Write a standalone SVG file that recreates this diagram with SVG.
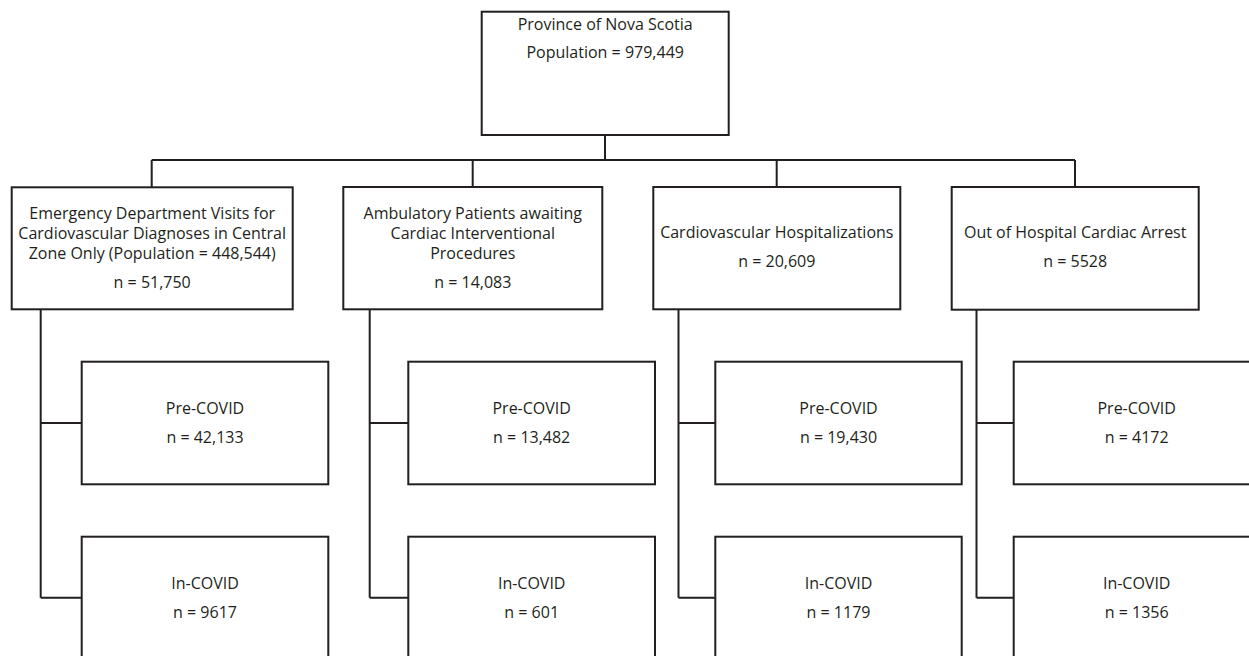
<svg xmlns="http://www.w3.org/2000/svg" width="1249" height="656" viewBox="0 0 1249 656">
<style>
  .box { fill: #ffffff; stroke: #231f20; stroke-width: 2; }
  .conn { fill: none; stroke: #231f20; stroke-width: 2; }
  text { font-family: "Open Sans", "Liberation Sans", sans-serif; font-size: 16px; fill: #231f20; text-anchor: middle; }
</style>
<rect width="1249" height="656" fill="#ffffff"/>
<g id="connectors">
  <path class="conn" d="M605,135 V160 M151.7,160 H1075 M151.7,160 V187 M472.7,160 V187 M776.7,160 V187 M1075,160 V187"/>
  <path class="conn" d="M40.7,309 V597.7 M40.7,423 H81.7 M40.7,597.7 H81.7"/>
  <path class="conn" d="M369.7,309 V597.7 M369.7,423 H408.3 M369.7,597.7 H408.3"/>
  <path class="conn" d="M678.5,309 V597.7 M678.5,423 H715.3 M678.5,597.7 H715.3"/>
  <path class="conn" d="M976.5,309 V597.7 M976.5,423 H1013.7 M976.5,597.7 H1013.7"/>
</g>
<g id="nova-scotia">
  <rect class="box" x="481.7" y="11.7" width="247" height="123.3"/>
  <text x="605.2" y="30">Province of Nova Scotia</text>
  <text x="605.2" y="58.3">Population = 979,449</text>
</g>
<g id="ed-visits">
  <rect class="box" x="11.7" y="187.3" width="281" height="122"/>
  <text x="152.2" y="219.3">Emergency Department Visits for</text>
  <text x="152.2" y="239.3">Cardiovascular Diagnoses in Central</text>
  <text x="152.2" y="259.3">Zone Only (Population = 448,544)</text>
  <text x="152.2" y="287.6">n = 51,750</text>
</g>
<g id="ambulatory">
  <rect class="box" x="343.3" y="187" width="259" height="122.3"/>
  <text x="472.8" y="219.3">Ambulatory Patients awaiting</text>
  <text x="472.8" y="239.3">Cardiac Interventional</text>
  <text x="472.8" y="259.3">Procedures</text>
  <text x="472.8" y="287.6">n = 14,083</text>
</g>
<g id="hospitalizations">
  <rect class="box" x="653.3" y="187" width="247" height="122.3"/>
  <text x="776.8" y="238.3">Cardiovascular Hospitalizations</text>
  <text x="776.8" y="267.3">n = 20,609</text>
</g>
<g id="ohca">
  <rect class="box" x="951.7" y="187" width="247" height="122.7"/>
  <text x="1075.2" y="238.3">Out of Hospital Cardiac Arrest</text>
  <text x="1075.2" y="267.3">n = 5528</text>
</g>
<g id="ed-pre">
  <rect class="box" x="81.7" y="361.7" width="246.6" height="122.6"/>
  <text x="205" y="414.3">Pre-COVID</text>
  <text x="205" y="443.3">n = 42,133</text>
</g>
<g id="ed-in">
  <rect class="box" x="81.7" y="536.7" width="246.6" height="140"/>
  <text x="205" y="589.3">In-COVID</text>
  <text x="205" y="618.3">n = 9617</text>
</g>
<g id="amb-pre">
  <rect class="box" x="408.3" y="361.7" width="246.7" height="122.6"/>
  <text x="531.7" y="414.3">Pre-COVID</text>
  <text x="531.7" y="443.3">n = 13,482</text>
</g>
<g id="amb-in">
  <rect class="box" x="408.3" y="536.7" width="246.7" height="140"/>
  <text x="531.7" y="589.3">In-COVID</text>
  <text x="531.7" y="618.3">n = 601</text>
</g>
<g id="hosp-pre">
  <rect class="box" x="715.3" y="361.7" width="246.4" height="122.6"/>
  <text x="838.5" y="414.3">Pre-COVID</text>
  <text x="838.5" y="443.3">n = 19,430</text>
</g>
<g id="hosp-in">
  <rect class="box" x="715.3" y="536.7" width="246.4" height="140"/>
  <text x="838.5" y="589.3">In-COVID</text>
  <text x="838.5" y="618.3">n = 1179</text>
</g>
<g id="ohca-pre">
  <rect class="box" x="1013.7" y="361.7" width="246" height="122.6"/>
  <text x="1136.7" y="414.3">Pre-COVID</text>
  <text x="1136.7" y="443.3">n = 4172</text>
</g>
<g id="ohca-in">
  <rect class="box" x="1013.7" y="536.7" width="246" height="140"/>
  <text x="1136.7" y="589.3">In-COVID</text>
  <text x="1136.7" y="618.3">n = 1356</text>
</g>
</svg>
